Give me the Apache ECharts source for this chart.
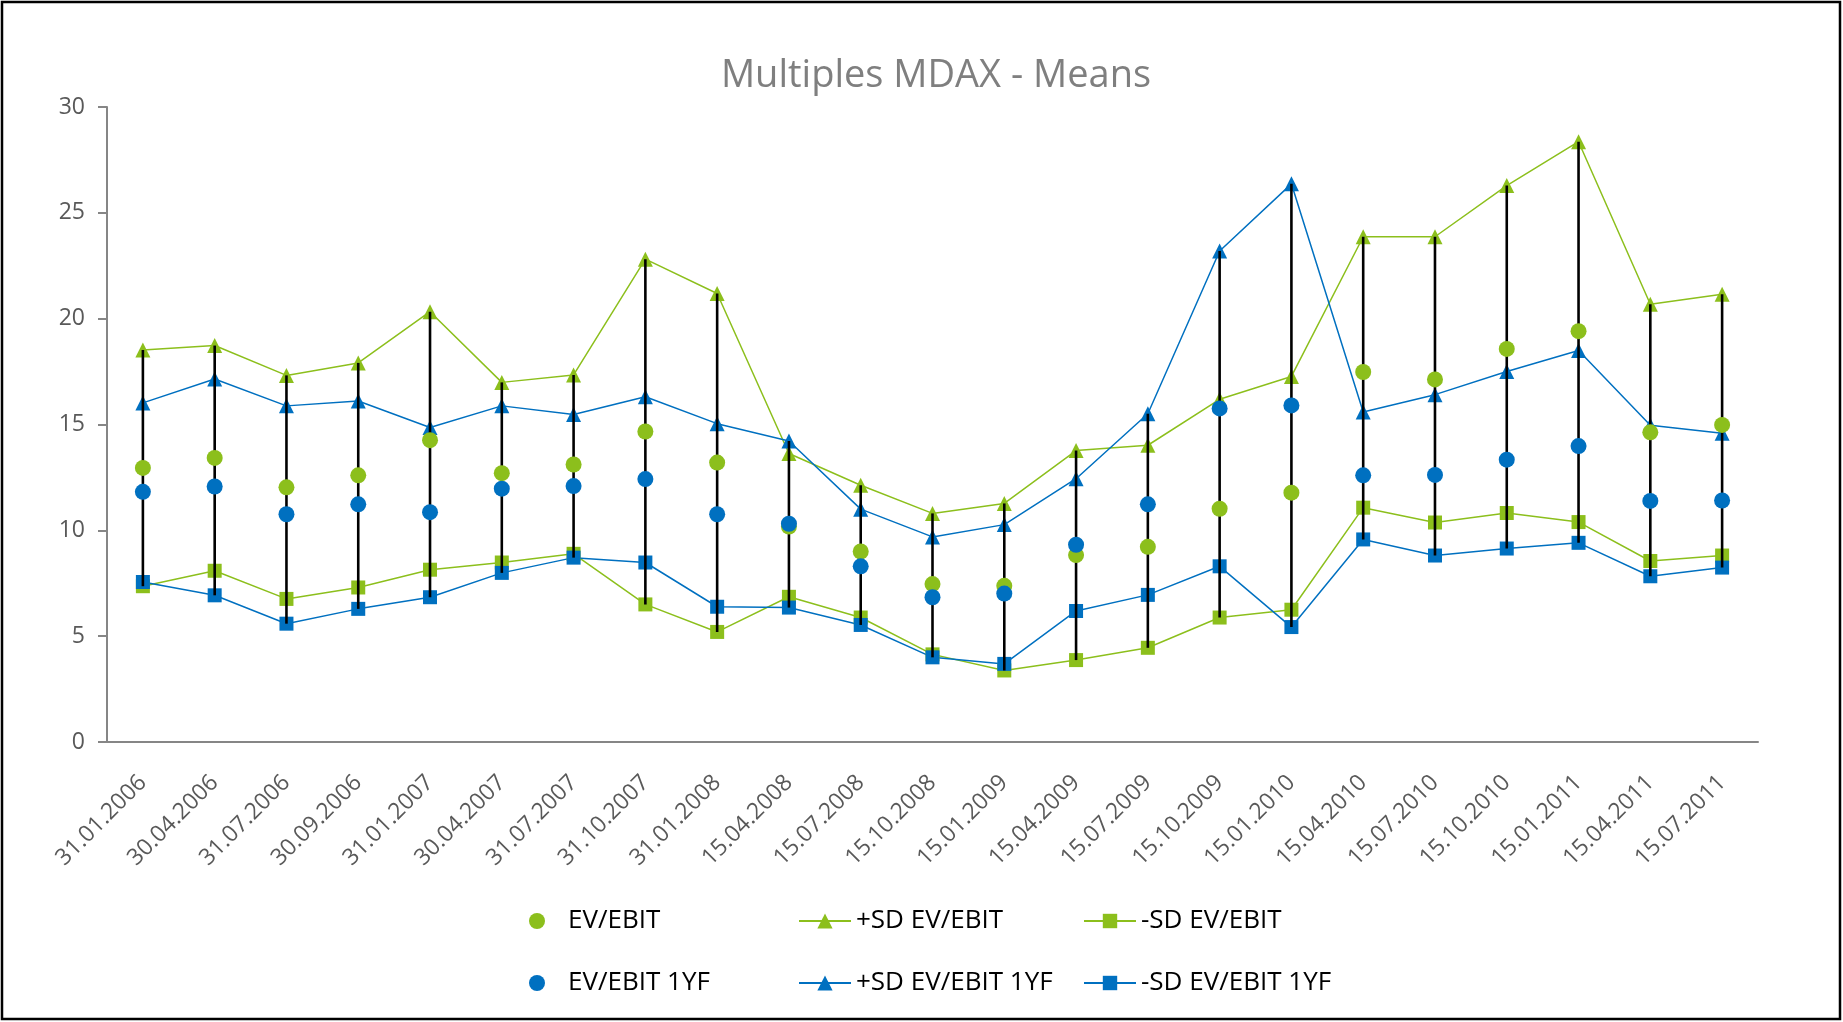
<!DOCTYPE html>
<html>
<head>
    <meta charset="utf-8" />
    <title>Multiples MDAX - Means</title>
    <script src="https://cdn.jsdelivr.net/npm/echarts@6/dist/echarts.min.js"></script>
    <style>
        html, body { margin: 0; padding: 0; background: #fff; }
        #main { width: 1843px; height: 1022px; }
    </style>
</head>
<body>
<div id="main"></div>
<script type="text/javascript">
    // Stichtage (x-Achse)
    const categories = ['31.01.2006', '30.04.2006', '31.07.2006', '30.09.2006', '31.01.2007', '30.04.2007',
        '31.07.2007', '31.10.2007', '31.01.2008', '15.04.2008', '15.07.2008', '15.10.2008', '15.01.2009',
        '15.04.2009', '15.07.2009', '15.10.2009', '15.01.2010', '15.04.2010', '15.07.2010', '15.10.2010',
        '15.01.2011', '15.04.2011', '15.07.2011'];

    const yTicks = [0, 5, 10, 15, 20, 25, 30];

    // EV/EBIT
    const evEbit = [12.95, 13.42, 12.03, 12.60, 14.26, 12.70, 13.11, 14.67, 13.20, 10.18, 9.00, 7.46,
        7.38, 8.83, 9.22, 11.02, 11.78, 17.48, 17.13, 18.57, 19.41, 14.63, 14.98];
    const plusSdEvEbit = [18.52, 18.73, 17.32, 17.91, 20.33, 16.99, 17.34, 22.81, 21.19, 13.63, 12.13, 10.80,
        11.27, 13.77, 14.02, 16.19, 17.27, 23.87, 23.87, 26.29, 28.36, 20.68, 21.15];
    const minusSdEvEbit = [7.36, 8.09, 6.76, 7.30, 8.14, 8.48, 8.89, 6.50, 5.20, 6.86, 5.88, 4.14,
        3.38, 3.87, 4.45, 5.88, 6.25, 11.07, 10.37, 10.82, 10.39, 8.55, 8.81];

    // EV/EBIT 1YF
    const evEbit1yf = [11.82, 12.07, 10.76, 11.23, 10.86, 11.97, 12.09, 12.42, 10.76, 10.31, 8.30, 6.84,
        7.01, 9.32, 11.23, 15.76, 15.90, 12.60, 12.62, 13.34, 13.98, 11.39, 11.41];
    const plusSdEvEbit1yf = [16.02, 17.15, 15.88, 16.11, 14.86, 15.88, 15.47, 16.31, 15.04, 14.22, 11.00, 9.69,
        10.27, 12.44, 15.51, 23.20, 26.37, 15.59, 16.41, 17.50, 18.50, 14.96, 14.59];
    const minusSdEvEbit1yf = [7.56, 6.93, 5.59, 6.29, 6.84, 7.99, 8.71, 8.48, 6.39, 6.35, 5.53, 4.00,
        3.69, 6.19, 6.95, 8.30, 5.43, 9.57, 8.81, 9.14, 9.41, 7.83, 8.24];

    const green = '#8cbf1c';
    const blue = '#0070c0';
    const font = 'Open Sans';

    // Hoch-Tief-Linien: vom höchsten zum tiefsten Wert je Stichtag
    const allSeries = [evEbit, plusSdEvEbit, minusSdEvEbit, evEbit1yf, plusSdEvEbit1yf, minusSdEvEbit1yf];
    const hiLo = categories.map(function (c, i) {
        const vals = allSeries.map(s => s[i]);
        return [i, Math.max(...vals), Math.min(...vals)];
    });

    function lineSeries(name, data, color, symbol, size) {
        return {
            name: name,
            type: 'line',
            data: data,
            symbol: symbol,
            symbolSize: size,
            z: 2,
            itemStyle: {color: color, opacity: 1},
            lineStyle: {color: color, width: 1.5},
            emphasis: {disabled: true}
        };
    }

    function dotSeries(name, data, color) {
        return {
            name: name,
            type: 'scatter',
            data: data,
            symbol: 'circle',
            symbolSize: 16,
            z: 4,
            itemStyle: {color: color, opacity: 1},
            emphasis: {disabled: true}
        };
    }

    let myChart = echarts.init(document.getElementById('main'));
    let option = {
        animation: false,
        textStyle: {fontFamily: font},
        title: {
            text: 'Multiples MDAX - Means',
            left: 931,
            textAlign: 'center',
            top: 52,
            textStyle: {fontFamily: font, fontSize: 38, fontWeight: 'normal', color: '#7f7f7f'}
        },
        graphic: [{
            type: 'rect',
            shape: {x: 2, y: 2, width: 1838, height: 1017},
            style: {fill: 'none', stroke: '#000', lineWidth: 2.5},
            silent: true
        }],
        legend: [
            {data: ['EV/EBIT', 'EV/EBIT 1YF'], left: 524, itemHeight: 16},
            {data: ['+SD EV/EBIT', '+SD EV/EBIT 1YF'], left: 793, itemHeight: 19},
            {data: ['-SD EV/EBIT', '-SD EV/EBIT 1YF'], left: 1078, itemHeight: 18}
        ].map(l => Object.assign({
            orient: 'vertical',
            top: 903,
            itemGap: 36,
            itemWidth: 52,
            selectedMode: false,
            textStyle: {fontFamily: font, fontSize: 26, color: '#000'}
        }, l)),
        grid: {left: 107, right: 85, top: 107, bottom: 280},
        xAxis: {
            type: 'category',
            data: categories,
            boundaryGap: true,
            axisLine: {lineStyle: {color: '#868686', width: 2}},
            axisTick: {alignWithLabel: true, length: 8, lineStyle: {color: '#868686', width: 2}},
            axisLabel: {rotate: 45, margin: 37, fontSize: 23, color: '#595959', interval: 0, fontFamily: font}
        },
        yAxis: {
            type: 'value',
            min: yTicks[0],
            max: yTicks[yTicks.length - 1],
            interval: 5,
            axisLine: {show: true, lineStyle: {color: '#868686', width: 2}},
            axisTick: {show: true, length: 9, lineStyle: {color: '#868686', width: 2}},
            splitLine: {show: false},
            axisLabel: {fontSize: 23, color: '#595959', margin: 22, fontFamily: font}
        },
        series: [
            dotSeries('EV/EBIT', evEbit, green),
            lineSeries('+SD EV/EBIT', plusSdEvEbit, green, 'triangle', 15),
            lineSeries('-SD EV/EBIT', minusSdEvEbit, green, 'rect', 14),
            dotSeries('EV/EBIT 1YF', evEbit1yf, blue),
            lineSeries('+SD EV/EBIT 1YF', plusSdEvEbit1yf, blue, 'triangle', 15),
            lineSeries('-SD EV/EBIT 1YF', minusSdEvEbit1yf, blue, 'rect', 14),
            {
                name: 'hilo',
                type: 'custom',
                silent: true,
                z: 3,
                data: hiLo,
                encode: {x: 0, y: [1, 2]},
                renderItem: function (params, api) {
                    const top = api.coord([api.value(0), api.value(1)]);
                    const bot = api.coord([api.value(0), api.value(2)]);
                    return {
                        type: 'line',
                        shape: {x1: top[0], y1: top[1], x2: bot[0], y2: bot[1]},
                        style: {stroke: '#000', lineWidth: 2.6}
                    };
                }
            }
        ]
    };
    myChart.setOption(option);
</script>
</body>
</html>
